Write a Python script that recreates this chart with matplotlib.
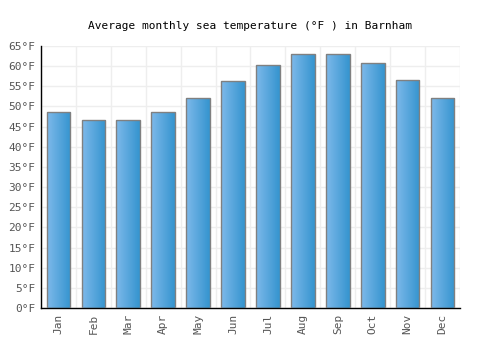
import numpy as np
import matplotlib

matplotlib.use("Agg")
import matplotlib.pyplot as plt
from matplotlib.colors import LinearSegmentedColormap

months = ["Jan", "Feb", "Mar", "Apr", "May", "Jun",
          "Jul", "Aug", "Sep", "Oct", "Nov", "Dec"]
sea_temp_f = [48.6, 46.5, 46.5, 48.6, 52.1, 56.3,
              60.2, 62.9, 62.9, 60.7, 56.5, 52.1]
y_ticks = list(range(0, 70, 5))

plt.rcParams["font.family"] = ["DejaVu Sans Mono"]

fig = plt.figure(figsize=(5, 3.5), dpi=100)
ax = fig.add_axes([0.082, 0.12, 0.838, 0.749])

x = np.arange(len(months))
bars = ax.bar(x, sea_temp_f, width=0.68, color="none",
              edgecolor="#808080", linewidth=1.0, zorder=3)

# horizontal gradient inside each bar
cmap = LinearSegmentedColormap.from_list("blu", ["#7db9ea", "#3594cf"])
grad = np.linspace(0, 1, 64).reshape(1, -1)
for b in bars:
    x0, y0 = b.get_x(), b.get_y()
    im = ax.imshow(grad, cmap=cmap, aspect="auto", zorder=2,
                   extent=(x0, x0 + b.get_width(), y0, y0 + b.get_height()))
    im.set_clip_path(b)

ax.set_xlim(-0.5, len(months) - 0.5)
ax.set_ylim(0, 65)
ax.set_xticks(x)
ax.set_xticklabels(months, rotation=90, fontsize=8, color="#555555")
ax.set_yticks(y_ticks)
ax.set_yticklabels([f"{t}°F" for t in y_ticks], fontsize=8, color="#555555")
ax.set_xticks(np.arange(-0.5, len(months)), minor=True)
ax.tick_params(axis="both", length=0, pad=4)
ax.tick_params(axis="x", which="minor", length=0)
ax.grid(True, axis="y", color="#eeeeee", linewidth=1, zorder=0)
ax.grid(True, axis="x", which="minor", color="#eeeeee", linewidth=1, zorder=0)
ax.set_axisbelow(True)

for s in ["top", "right"]:
    ax.spines[s].set_visible(False)
for s in ["left", "bottom"]:
    ax.spines[s].set_color("black")
    ax.spines[s].set_linewidth(1)

fig.text(0.5, 0.925, "Average monthly sea temperature (°F ) in Barnham",
         ha="center", va="center", fontsize=8, color="#000000")

fig.savefig("out.png", dpi=100)
